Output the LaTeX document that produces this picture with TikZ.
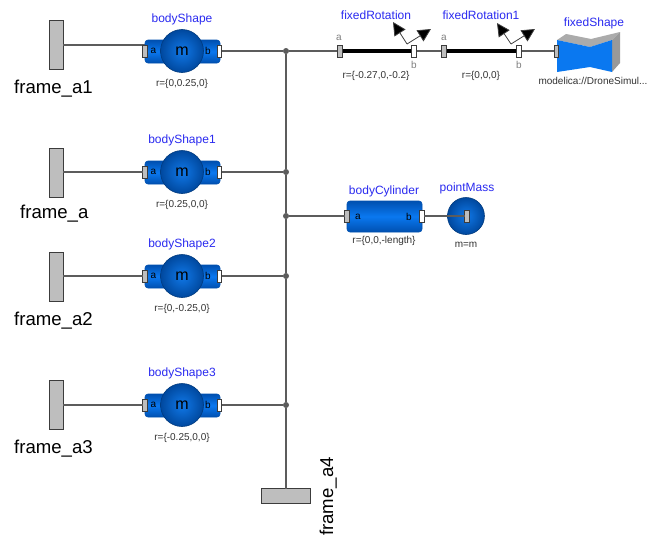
\documentclass[tikz,border=0pt]{standalone}
\usepackage{fontspec}
\setmainfont{Liberation Sans}
\usetikzlibrary{arrows.meta}
\definecolor{wire}{HTML}{5C5C5C}
\definecolor{portgrey}{HTML}{BEBEBE}
\definecolor{edge}{HTML}{3C3C3C}
\definecolor{lab}{HTML}{2A2AF0}
\definecolor{blueM}{HTML}{0A78F0}
\definecolor{blueD}{HTML}{0050B0}
\definecolor{ballM}{HTML}{1078E8}
\definecolor{ballD}{HTML}{00489E}
\tikzset{
  x=1pt,y=-1pt,
  wireline/.style={draw=wire,line width=1.6pt},
  framebox/.style={draw=edge,fill=portgrey,line width=1pt,inner sep=0,outer sep=0},
  framelabel/.style={font=\fontsize{18.6}{20}\selectfont,text=black,inner sep=0,anchor=base west},
  namelabel/.style={font=\fontsize{12}{14}\selectfont,text=lab,inner sep=0},
  parlabel/.style={font=\fontsize{10}{12}\selectfont,text=black!80,inner sep=0},
  portlabel/.style={font=\fontsize{10}{12}\selectfont,text=black,inner sep=0},
  sidelabel/.style={font=\fontsize{10}{12}\selectfont,text=black!50,inner sep=0},
  porta/.style={draw=edge,fill=portgrey,line width=.8pt,minimum width=4.5pt,minimum height=12pt,inner sep=0,outer sep=0},
  portb/.style={draw=edge,fill=white,line width=.8pt,minimum width=4.5pt,minimum height=12pt,inner sep=0,outer sep=0},
  junction/.style={circle,fill=wire,minimum size=6pt,inner sep=0,outer sep=0},
  tube/.style={draw=blueD,line width=.6pt,rounded corners=3pt,top color=blueD,bottom color=blueD,middle color=blueM},
  ball/.style={circle,draw=ballD!80!black,line width=.6pt,inner color=ballM,outer color=ballD,inner sep=0,outer sep=0},
  arrowline/.style={draw=black!75,line width=.8pt,-{Triangle[length=13pt,width=13pt,fill=black]}},
  rodbar/.style={draw=black,line width=3.8pt},
}
% name, y, label, parameter
\newcommand{\bodyunit}[4]{%
  \path[tube] (145,#2-11) rectangle (220,#2+12);
  \node[ball,minimum size=43pt] (#1ball) at (182,#2) {\fontsize{16}{18}\selectfont m};
  \node[porta] (#1a) at (145,#2) {};
  \node[portb] (#1b) at (219.5,#2) {};
  \node[portlabel] at (153.5,#2) {a};
  \node[portlabel] at (208,#2) {b};
  \node[namelabel] at (182,#2-32) {#3};
  \node[parlabel] at (182,#2+33) {#4};
}
\begin{document}
\begin{tikzpicture}
\useasboundingbox[fill=white] (0,0) rectangle (664,538);

% frames
\node[framebox,minimum width=14pt,minimum height=49pt] (f1) at (56,45) {};
\node[framebox,minimum width=14pt,minimum height=49pt] (f2) at (56,173) {};
\node[framebox,minimum width=14pt,minimum height=49pt] (f3) at (56,277) {};
\node[framebox,minimum width=14pt,minimum height=49pt] (f4) at (56,405) {};
\node[framebox,minimum width=49pt,minimum height=15pt] (f5) at (286,496) {};
\node[framelabel] at (14,93) {frame\_a1};
\node[framelabel] at (20,218) {frame\_a};
\node[framelabel] at (14,325) {frame\_a2};
\node[framelabel] at (14,453) {frame\_a3};
\node[framelabel,rotate=90] at (333,536) {frame\_a4};

% junctions
\node[junction] (j1) at (286,51) {};
\node[junction] (j2) at (286,172) {};
\node[junction] (j3) at (286,216) {};
\node[junction] (j4) at (286,276) {};
\node[junction] (j5) at (286,405) {};

% bodies (wires drawn first so that they run behind)
\coordinate (e1) at (145,45);
\draw[wireline] (f1.east) -- (e1);
\draw[wireline] (j1) -- (j2);
\draw[wireline] (j2) -- (j3);
\draw[wireline] (j3) -- (j4);
\draw[wireline] (j4) -- (j5);
\draw[wireline] (j5) -- (f5.north);

\bodyunit{bz}{51}{bodyShape}{r=\{0,0.25,0\}}
\bodyunit{bo}{172}{bodyShape1}{r=\{0.25,0,0\}}
\bodyunit{bt}{276}{bodyShape2}{r=\{0,-0.25,0\}}
\bodyunit{bh}{405}{bodyShape3}{r=\{-0.25,0,0\}}

\draw[wireline] (f2.east |- boa) -- (boa.west);
\draw[wireline] (f3.east |- bta) -- (bta.west);
\draw[wireline] (f4.east |- bha) -- (bha.west);
\draw[wireline] (bzb) -- (j1);
\draw[wireline] (bob) -- (j2);
\draw[wireline] (btb) -- (j4);
\draw[wireline] (bhb) -- (j5);

% fixed rotations
\node[porta] (ra) at (340,51) {};
\node[portb] (rb) at (414,51) {};
\node[porta] (sa) at (444,51) {};
\node[portb] (sb) at (519,51) {};
\node[porta] (ta) at (556.5,51) {};
\draw[wireline] (j1) -- (ra);
\draw[wireline] (rb) -- (sa);
\draw[wireline] (sb) -- (ta);
\draw[rodbar] (ra) -- (rb);
\draw[rodbar] (sa) -- (sb);
\node[porta] at (340,51) {};
\node[portb] at (414,51) {};
\node[porta] at (444,51) {};
\node[portb] at (519,51) {};
\coordinate (o1) at (407,44);
\coordinate (o2) at (511,44);
\coordinate (p1) at (393,22);
\coordinate (p2) at (431,29);
\coordinate (p3) at (497,23);
\coordinate (p4) at (535,29);
\draw[arrowline] (o1) -- (p1);
\draw[arrowline] (o1) -- (p2);
\draw[arrowline] (o2) -- (p3);
\draw[arrowline] (o2) -- (p4);
\node[namelabel] at (376,15) {fixedRotation};
\node[namelabel] at (481,15) {fixedRotation1};
\node[namelabel] at (594,23) {fixedShape};
\node[sidelabel] at (339,38) {a};
\node[sidelabel] at (444,38) {a};
\node[sidelabel] at (414,65) {b};
\node[sidelabel] at (519,65) {b};
\node[parlabel] at (376,76) {r=\{-0.27,0,-0.2\}};
\node[parlabel] at (481,76) {r=\{0,0,0\}};
\node[parlabel] at (593,81) {modelica://DroneSimul...};

% fixed shape
\fill[black!33] (557,40) -- (566,34) -- (591,39) -- (620,32) -- (612,40) -- (590,47) -- cycle;
\fill[black!40] (612,40) -- (620,32) -- (620,63) -- (612,72) -- cycle;
\fill[blueM] (557,40) -- (590,47) -- (612,40) -- (612,72) -- (590,67) -- (557,72) -- cycle;
\node[porta] at (556.5,51) {};

% cylinder and point mass
\path[tube] (347,201) rectangle (422,232);
\node[ball,minimum size=37pt] (pm) at (466,216) {};
\node[porta] (ca) at (347,216) {};
\node[portb] (cb) at (422,216) {};
\node[porta] (pp) at (467,216) {};
\draw[wireline] (j3) -- (ca);
\draw[wireline] (cb) -- (pp);
\node[portlabel] at (358,217) {a};
\node[portlabel] at (409,217) {b};
\node[namelabel] at (384,191) {bodyCylinder};
\node[namelabel] at (467,188) {pointMass};
\node[parlabel] at (384,241) {r=\{0,0,-length\}};
\node[parlabel] at (466,245) {m=m};
\end{tikzpicture}
\end{document}
